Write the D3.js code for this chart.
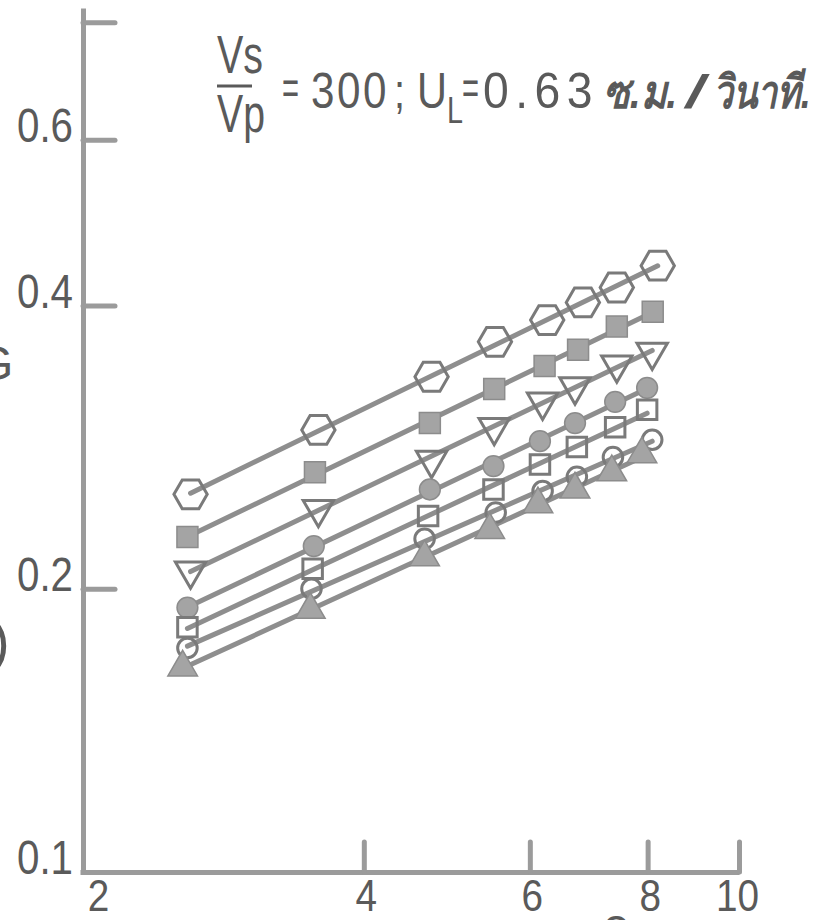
<!DOCTYPE html>
<html>
<head>
<meta charset="utf-8">
<script src="https://cdn.jsdelivr.net/npm/d3@7"></script>
<style>
  body { margin: 0; background: #fff; }
  svg text { font-family: "Liberation Sans", Arimo, sans-serif; fill: #5a5a5a; }
</style>
</head>
<body>
<svg id="chart" width="818" height="920"></svg>
<script>
// values (x along the bottom, y up the side)
var xTicks = [2, 4, 6, 8, 10];
var yTicks = [0.1, 0.2, 0.4, 0.6, 0.8];
var yTickLabels = ["0.1", "0.2", "0.4", "0.6", ""];

var hexX = [2.62, 3.58, 4.72, 5.51, 6.26, 6.83, 7.42, 8.20];
var hexY = [0.252, 0.295, 0.336, 0.366, 0.386, 0.403, 0.418, 0.441];

var fSquareX = [2.60, 3.55, 4.70, 5.50, 6.22, 6.75, 7.42, 8.10];
var fSquareY = [0.227, 0.266, 0.300, 0.326, 0.345, 0.359, 0.380, 0.394];

var oTriX = [2.62, 3.58, 4.72, 5.50, 6.19, 6.70, 7.42, 8.09];
var oTriY = [0.209, 0.243, 0.274, 0.297, 0.316, 0.328, 0.346, 0.357];

var fCircleX = [2.60, 3.54, 4.70, 5.49, 6.15, 6.70, 7.39, 7.99];
var fCircleY = [0.191, 0.222, 0.255, 0.270, 0.287, 0.300, 0.316, 0.327];

var oSquareX = [2.60, 3.53, 4.68, 5.49, 6.15, 6.73, 7.39, 7.99];
var oSquareY = [0.182, 0.210, 0.239, 0.255, 0.271, 0.283, 0.297, 0.310];

var oCircleX = [2.60, 3.52, 4.64, 5.52, 6.19, 6.73, 7.35, 8.09];
var oCircleY = [0.173, 0.200, 0.226, 0.241, 0.254, 0.263, 0.276, 0.288];

var fTriX = [2.57, 3.51, 4.64, 5.44, 6.12, 6.70, 7.33, 7.89];
var fTriY = [0.165, 0.190, 0.216, 0.231, 0.246, 0.255, 0.266, 0.278];

// hexagon is not one of d3's symbols
var symbolHexagon = {
    draw: function (context, size) {
        var r = Math.sqrt(size / (1.5 * Math.sqrt(3)));
        for (var i = 0; i < 6; i++) {
            var a = i * Math.PI / 3;
            if (i === 0) context.moveTo(r * Math.cos(a), r * Math.sin(a));
            else context.lineTo(r * Math.cos(a), r * Math.sin(a));
        }
        context.closePath();
    }
};

var series = [
    {xs: hexX, ys: hexY, type: symbolHexagon, size: 720, filled: false, rot: 0},
    {xs: fSquareX, ys: fSquareY, type: d3.symbolSquare, size: 440, filled: true, rot: 0},
    {xs: oTriX, ys: oTriY, type: d3.symbolTriangle, size: 400, filled: false, rot: 180},
    {xs: fCircleX, ys: fCircleY, type: d3.symbolCircle, size: 340, filled: true, rot: 0},
    {xs: oSquareX, ys: oSquareY, type: d3.symbolSquare, size: 380, filled: false, rot: 0},
    {xs: oCircleX, ys: oCircleY, type: d3.symbolCircle, size: 300, filled: false, rot: 0},
    {xs: fTriX, ys: fTriY, type: d3.symbolTriangle, size: 380, filled: true, rot: 0}
];

var svg = d3.select("#chart");

var x = d3.scaleLog().domain([2, 10]).range([80, 739]);
var y = d3.scaleLog().domain([0.1, 0.8284]).range([872, 8]);

var axisColor = "#9b9b9b";

// the lettering on the drawing is narrow, squeeze each text to k of its width
function condense(sel, k) {
    sel.each(function () {
        var w = this.getComputedTextLength();
        d3.select(this).attr("textLength", w * k).attr("lengthAdjust", "spacingAndGlyphs");
    });
}

// y axis, ticks pointing into the plot
var yAxis = d3.axisLeft(y).tickValues(yTicks).tickSizeInner(-32).tickSizeOuter(0)
    .tickFormat(function (d, i) { return yTickLabels[i]; });
var gy = svg.append("g").attr("transform", "translate(83,0)").call(yAxis);
gy.select(".domain").attr("stroke", axisColor).attr("stroke-width", 5);
gy.selectAll(".tick line").attr("stroke", axisColor).attr("stroke-width", 5)
    .attr("stroke-linecap", "round")
    .filter(function (d) { return d === 0.1; }).remove();
gy.selectAll(".tick text").attr("x", -10).attr("dy", "0.04em")
    .attr("font-size", 48).attr("fill", "#5a5a5a").attr("font-family", null)
    .call(condense, 0.84);

// x axis, ticks pointing up
var xAxis = d3.axisBottom(x).tickValues(xTicks).tickSizeInner(-30).tickSizeOuter(0)
    .tickFormat(d3.format("d"));
var gx = svg.append("g").attr("transform", "translate(0,872)").call(xAxis);
gx.select(".domain").attr("stroke", axisColor).attr("stroke-width", 5);
gx.selectAll(".tick line").attr("stroke", axisColor).attr("stroke-width", 5)
    .attr("stroke-linecap", "round")
    .filter(function (d) { return d === 2; }).remove();
gx.selectAll(".tick text").attr("y", 39).attr("dy", null)
    .attr("dx", function (d) { return d === 2 ? 18 : (d === 10 ? -2 : 2); })
    .attr("font-size", 45).attr("fill", "#5a5a5a").attr("font-family", null)
    .call(condense, 0.86);

// straight fitted line per series in log-log space
series.forEach(function (s) {
    var lx = s.xs.map(Math.log10), ly = s.ys.map(Math.log10);
    var mx = d3.mean(lx), my = d3.mean(ly);
    var b = d3.sum(lx, function (v, i) { return (v - mx) * (ly[i] - my); }) /
            d3.sum(lx, function (v) { return (v - mx) * (v - mx); });
    var a = my - b * mx;
    var ends = d3.extent(s.xs).map(function (v) { return [v, Math.pow(10, a + b * Math.log10(v))]; });
    svg.append("path")
        .attr("d", d3.line().x(function (d) { return x(d[0]); }).y(function (d) { return y(d[1]); })(ends))
        .attr("fill", "none").attr("stroke", "#8e8e8e").attr("stroke-width", 5)
        .attr("stroke-linecap", "round");
});

series.forEach(function (s) {
    var pts = s.xs.map(function (v, i) { return [v, s.ys[i]]; });
    svg.append("g").selectAll("path").data(pts).join("path")
        .attr("transform", function (d) { return "translate(" + x(d[0]) + "," + y(d[1]) + ") rotate(" + s.rot + ")"; })
        .attr("d", d3.symbol().type(s.type).size(s.size))
        .attr("fill", s.filled ? "#a4a4a4" : "none")
        .attr("stroke", s.filled ? "#8c8c8c" : "#7a7a7a")
        .attr("stroke-width", s.filled ? 1.5 : 3);
});

// title pieces, each squeezed/stretched to the width it has on the drawing
var t = svg.append("g");
function piece(str, px, py, size, width, spacing, thai) {
    var g = t.append("g");
    var txt = g.append("text").attr("font-size", size).attr("letter-spacing", spacing || 0).text(str);
    if (thai) txt.attr("font-style", "italic").attr("font-weight", "bold")
        .attr("font-family", "'Noto Sans', 'DejaVu Sans', sans-serif");
    var w = txt.node().getComputedTextLength();
    g.attr("transform", "translate(" + px + "," + py + ") scale(" + (width / w) + ",1)");
}
piece("Vs", 217, 73, 54, 46);
t.append("line").attr("x1", 217).attr("x2", 252).attr("y1", 86).attr("y2", 86)
    .attr("stroke", "#5a5a5a").attr("stroke-width", 3);
piece("Vp", 217, 132, 54, 48);
piece("=", 282, 104, 48, 17);
piece("300", 311, 108, 50, 78, 3);
piece(";", 394, 108, 48, 11);
piece("U", 417, 108, 50, 30);
piece("L", 447, 123, 36, 16);
piece("=", 462, 104, 48, 17);
piece("0.63", 483, 108, 50, 116, 7);
piece("ซ.ม.", 603, 108, 46, 74, 0, true);
piece("/", 686, 108, 46, 18, 0, true);
piece("วินาที.", 713, 108, 46, 98, 0, true);

// axis titles, mostly outside the photographed area
svg.append("text").attr("x", -24).attr("y", 380).attr("font-size", 48).text("G");
svg.append("text").attr("x", -9).attr("y", 660).attr("font-size", 56).text(")");
svg.append("text").attr("x", 603).attr("y", 942).attr("font-size", 48).text("e");
</script>
</body>
</html>
